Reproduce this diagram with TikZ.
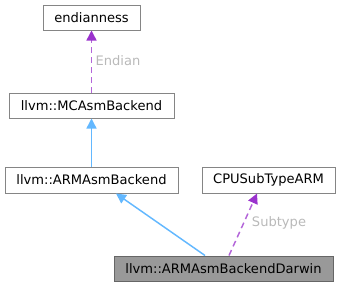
\documentclass[tikz,border=0pt]{standalone}
\usepackage{fontspec}
\setmainfont{DejaVu Sans}
\usetikzlibrary{arrows.meta}

\definecolor{edgeblue}{RGB}{99,184,255}
\definecolor{edgepurple}{RGB}{154,50,205}
\definecolor{boxline}{RGB}{102,102,102}
\definecolor{boxfill}{RGB}{153,153,153}
\definecolor{labelgrey}{RGB}{185,185,185}

\tikzset{every picture/.style={line width=0.75pt}}
\tikzset{
  classbox/.style={draw=boxline!80, fill=white, inner sep=0pt, font=\fontsize{9.8}{11}\selectfont},
  thisbox/.style={classbox, draw=boxline, fill=boxfill},
  inherit/.style={color=edgeblue, line width=1.1pt, -{Triangle[length=7.5pt,width=7.5pt]}},
  member/.style={color=edgepurple!75, line width=1.1pt, dash pattern=on 4.5pt off 3pt, -{Triangle[length=7.5pt,width=7.5pt,fill=edgepurple,color=edgepurple]}},
  edgelabel/.style={text=labelgrey, font=\fontsize{9.8}{11}\selectfont}
}

\begin{document}
\begin{tikzpicture}[x=0.75pt,y=0.75pt,yscale=-1,xscale=1]
	\path[use as bounding box] (0,0) rectangle (341,287);
	
	%Shape: Rectangle [id:endianness]
	\node[classbox, minimum width=97*0.75pt, minimum height=25*0.75pt] (endian) at (91.5,17.5) {endianness};
	%Shape: Rectangle [id:mcasm]
	\node[classbox, minimum width=165*0.75pt, minimum height=25*0.75pt] (mcasm) at (91.5,105.5) {llvm::MCAsmBackend};
	%Shape: Rectangle [id:armasm]
	\node[classbox, minimum width=173*0.75pt, minimum height=26*0.75pt] (armasm) at (91.5,180) {llvm::ARMAsmBackend};
	%Shape: Rectangle [id:cpusub]
	\node[classbox, minimum width=133*0.75pt, minimum height=26*0.75pt] (cpusub) at (268.5,180) {CPUSubTypeARM};
	%Shape: Rectangle [id:darwin]
	\node[thisbox, minimum width=219*0.75pt, minimum height=25*0.75pt] (darwin) at (223.5,268.5) {llvm::ARMAsmBackendDarwin};
	
	%Straight Lines [id:endian edge]
	\draw[member] (mcasm.north) -- (endian.south);
	%Straight Lines [id:mcasm edge]
	\draw[inherit] (armasm.north) -- (mcasm.south);
	%Straight Lines [id:armasm edge]
	\draw[inherit] ([xshift=-18.5*0.75pt]darwin.north) -- ([xshift=24.5*0.75pt]armasm.south);
	%Straight Lines [id:subtype edge]
	\draw[member] ([xshift=5.5*0.75pt]darwin.north) -- ([xshift=-11.5*0.75pt]cpusub.south);
	
	% Text Node
	\node[edgelabel] (endianlbl) at (118,61) {Endian};
	% Text Node
	\node[edgelabel] (subtypelbl) at (279,223) {Subtype};
	
\end{tikzpicture}
\end{document}
